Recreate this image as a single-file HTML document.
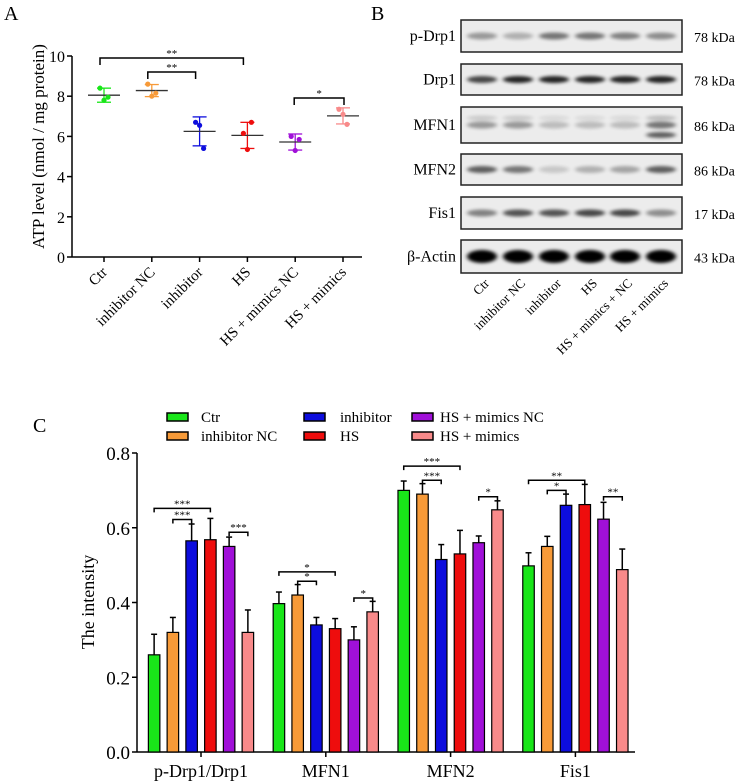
<!DOCTYPE html>
<html><head><meta charset="utf-8"><style>
body{margin:0;background:#fff;width:749px;height:782px;overflow:hidden}
svg{display:block;font-family:"Liberation Serif",serif}
</style></head><body>
<svg id="fig" width="749" height="782" viewBox="0 0 749 782">
<defs><filter id="blur" x="-20%" y="-100%" width="140%" height="300%"><feGaussianBlur stdDeviation="2.2 1.6"/></filter></defs>
<text x="4" y="20" font-size="20">A</text>
<text x="371" y="20" font-size="20">B</text>
<text x="33" y="432" font-size="20">C</text>
<g id="pa"></g>
<g id="pb"></g>
<g id="pc"></g>
</svg>
<script>
const NS='http://www.w3.org/2000/svg';
function mk(p,t,a,txt){const e=document.createElementNS(NS,t);for(const k in a)e.setAttribute(k,a[k]);if(txt!==undefined)e.textContent=txt;p.appendChild(e);return e;}
const colors=['#19e619','#f79a38','#0d0ddd','#ee0d0d','#a010d8','#f88a8a'];

// ---------- Panel A ----------
const aCategories=['Ctr','inhibitor NC','inhibitor','HS','HS + mimics NC','HS + mimics'];
const aMeans=[8.05,8.28,6.25,6.05,5.72,7.02];
const aErr=[0.35,0.3,0.72,0.65,0.4,0.4];
const aPoints=[[8.4,7.8,7.95],[8.6,8.0,8.15],[6.7,6.55,5.4],[6.15,5.35,6.7],[6.0,5.3,5.85],[7.35,7.1,6.6]];
const aTicks=[0,2,4,6,8,10];
const pa=document.getElementById('pa');
const ax0=72,ax1=362,ay0=257,ay1=56;
const aY=v=>ay0-(v/10)*(ay0-ay1);
const aX=i=>104+i*47.8;
mk(pa,'line',{x1:ax0,y1:ay1,x2:ax0,y2:ay0,stroke:'#000','stroke-width':1.5,});
mk(pa,'line',{x1:ax0,y1:ay0,x2:ax1,y2:ay0,stroke:'#000','stroke-width':1.5,});
aTicks.forEach(t=>{mk(pa,'line',{x1:ax0-5,y1:aY(t),x2:ax0,y2:aY(t),stroke:'#000','stroke-width':1.5});
 const e=mk(pa,'text',{x:ax0-7,y:aY(t)+6,'font-size':16,'text-anchor':'end'},t);});
const at=mk(pa,'text',{x:0,y:0,'font-size':17,'text-anchor':'middle',transform:`translate(44,${(ay0+ay1)/2-10}) rotate(-90)`},'ATP level (nmol / mg protein)');

aCategories.forEach((c,i)=>{const x=aX(i);
 mk(pa,'line',{x1:x,y1:ay0,x2:x,y2:ay0+5,stroke:'#000','stroke-width':1.5});
 const t=mk(pa,'text',{x:0,y:0,'font-size':15,'text-anchor':'end',transform:`translate(${x+4},${ay0+16}) rotate(-45)`},c);
 
 const g=mk(pa,'g',{stroke:colors[i],'stroke-width':1.3});
 
 mk(g,'line',{x1:x,y1:aY(aMeans[i]-aErr[i]),x2:x,y2:aY(aMeans[i]+aErr[i])});
 mk(g,'line',{x1:x-7,y1:aY(aMeans[i]-aErr[i]),x2:x+7,y2:aY(aMeans[i]-aErr[i])});
 mk(g,'line',{x1:x-7,y1:aY(aMeans[i]+aErr[i]),x2:x+7,y2:aY(aMeans[i]+aErr[i])});
 mk(pa,'line',{x1:x-16,y1:aY(aMeans[i]),x2:x+16,y2:aY(aMeans[i]),stroke:'#333','stroke-width':1.3});
 aPoints[i].forEach((p,j)=>{const d=mk(pa,'circle',{cx:x+(j-1)*4,cy:aY(p),r:2.6,fill:colors[i]});});
});
function bracket(p,x1,x2,y,h,lab){mk(p,'path',{d:`M${x1},${y+h}V${y}H${x2}V${y+h}`,fill:'none',stroke:'#000','stroke-width':1.5});
 const t=mk(p,'text',{x:(x1+x2)/2,y:y-1,'font-size':11,'text-anchor':'middle'},lab);}
bracket(pa,aX(0)-4,aX(3)-4,58,7,'**');
bracket(pa,aX(1)-4,aX(2)-4,72,7,'**');
bracket(pa,aX(4)-1,aX(5)+1,98,7,'*');

// ---------- Panel B ----------
const pb=document.getElementById('pb');
const bLabels=['p-Drp1','Drp1','MFN1','MFN2','Fis1','β-Actin'];
const bKda=['78 kDa','78 kDa','86 kDa','86 kDa','17 kDa','43 kDa'];
const bRows=[[20,52],[64,95],[107,143],[154,185],[197,229],[240,273]];
const bInt=[[.35,.25,.5,.5,.45,.4],[.7,.85,.85,.85,.85,.85],[.35,.35,.2,.2,.2,.5],[.6,.5,.15,.25,.3,.6],[.45,.65,.65,.7,.7,.4],[1,1,1,1,1,1]];
const lanes=[482,518,554,590,625,661];
bRows.forEach((r,i)=>{
 const g=mk(pb,'g',{});
 mk(g,'rect',{x:461,y:r[0],width:221,height:r[1]-r[0],fill:'#ececec',stroke:'#222','stroke-width':1.5});
 const cy=(r[0]+r[1])/2;
 lanes.forEach((lx,j)=>{const v=bInt[i][j];const h=i==5?13:7;
  mk(g,'ellipse',{cx:lx,cy:cy,rx:15,ry:h/2,fill:'#000',opacity:v,filter:'url(#blur)'});
  if(i==2){mk(g,'ellipse',{cx:lx,cy:cy-7,rx:15,ry:2.5,fill:'#000',opacity:v*0.4,filter:'url(#blur)'});}
 });
 if(i==2){mk(g,'ellipse',{cx:661,cy:cy+10,rx:15,ry:3,fill:'#000',opacity:.6,filter:'url(#blur)'});}
 const l=mk(pb,'text',{x:456,y:cy+5,'font-size':16,'text-anchor':'end'},bLabels[i]);
 const k=mk(pb,'text',{x:694,y:cy+6,'font-size':14},bKda[i]);
});
const bLane=['Ctr','inhibitor NC','inhibitor','HS','HS + mimics + NC','HS + mimics'];
bLane.forEach((c,j)=>{const t=mk(pb,'text',{x:0,y:0,'font-size':13,'text-anchor':'end',transform:`translate(${lanes[j]+8},${284}) rotate(-45)`},c);});

// ---------- Panel C ----------
const cCategories=['p-Drp1/Drp1','MFN1','MFN2','Fis1'];
const cSeries=['Ctr','inhibitor NC','inhibitor','HS','HS + mimics NC','HS + mimics'];
const cCtr=[0.26,0.397,0.70,0.498];
const cInhNC=[0.32,0.42,0.69,0.55];
const cInh=[0.565,0.34,0.515,0.66];
const cHS=[0.568,0.33,0.53,0.662];
const cMimNC=[0.55,0.30,0.56,0.623];
const cMim=[0.32,0.375,0.648,0.488];
const cErrCtr=[0.055,0.031,0.025,0.035];
const cErrInhNC=[0.04,0.028,0.028,0.027];
const cErrInh=[0.045,0.02,0.04,0.03];
const cErrHS=[0.057,0.027,0.063,0.054];
const cErrMimNC=[0.025,0.035,0.018,0.045];
const cErrMim=[0.06,0.028,0.024,0.055];
const cTicks=[0,0.2,0.4,0.6,0.8];
const cVals=[cCtr,cInhNC,cInh,cHS,cMimNC,cMim];
const cErrs=[cErrCtr,cErrInhNC,cErrInh,cErrHS,cErrMimNC,cErrMim];
const pc=document.getElementById('pc');
const cx0=137,cx1=635,cy0=752,cy1=453;
const cY=v=>cy0-(v/0.8)*(cy0-cy1);
const cG=i=>201+i*124.8;
const cB=(i,s)=>cG(i)+(s-2.5)*18.75;
const bw=11.5;
mk(pc,'line',{x1:cx0,y1:cy1,x2:cx0,y2:cy0,stroke:'#000','stroke-width':1.5,});
mk(pc,'line',{x1:cx0,y1:cy0,x2:cx1,y2:cy0,stroke:'#000','stroke-width':1.5,});
cTicks.forEach(t=>{mk(pc,'line',{x1:cx0-5,y1:cY(t),x2:cx0,y2:cY(t),stroke:'#000','stroke-width':1.5});
 const e=mk(pc,'text',{x:cx0-7,y:cY(t)+7,'font-size':19,'text-anchor':'end'},t.toFixed(1));});
const ct=mk(pc,'text',{x:0,y:0,'font-size':18,'text-anchor':'middle',transform:`translate(94,602) rotate(-90)`},'The intensity');

cCategories.forEach((c,i)=>{
 mk(pc,'line',{x1:cG(i),y1:cy0,x2:cG(i),y2:cy0+5,stroke:'#000','stroke-width':1.5});
 const t=mk(pc,'text',{x:cG(i),y:cy0+25,'font-size':18,'text-anchor':'middle'},c);
 cVals.forEach((arr,s)=>{const x=cB(i,s),v=arr[i],e=cErrs[s][i];
  mk(pc,'line',{x1:x,y1:cY(v),x2:x,y2:cY(v+e),stroke:'#000','stroke-width':1.5});
  mk(pc,'line',{x1:x-3,y1:cY(v+e),x2:x+3,y2:cY(v+e),stroke:'#000','stroke-width':1.5});
  const r=mk(pc,'rect',{x:x-bw/2,y:cY(v),width:bw,height:cY(0)-cY(v),fill:colors[s],stroke:'#000','stroke-width':1.2});
  
 });
});
function cBr(i,s1,s2,v,lab){const y=cY(v);bracket(pc,cB(i,s1),cB(i,s2),y,4,lab);}
cBr(0,0,3,0.652,'***');cBr(0,1,2,0.622,'***');cBr(0,4,5,0.588,'***');
cBr(1,0,3,0.482,'*');cBr(1,1,2,0.457,'*');cBr(1,4,5,0.412,'*');
cBr(2,0,3,0.765,'***');cBr(2,1,2,0.727,'***');cBr(2,4,5,0.683,'*');
cBr(3,0,3,0.727,'**');cBr(3,1,2,0.7,'*');cBr(3,4,5,0.683,'**');
// legend
const lgX=[167,304,412],lgTX=[201,340,440],lgY=[417,436];
cSeries.forEach((s,k)=>{const col=Math.floor(k/2),row=k%2;
 const g=mk(pc,'g',{});
 mk(g,'rect',{x:lgX[col],y:lgY[row]-4,width:21,height:8,fill:colors[k],stroke:'#000','stroke-width':1.5});
 mk(g,'text',{x:lgTX[col],y:lgY[row]+5,'font-size':15},s);
});
</script>
</body></html>
